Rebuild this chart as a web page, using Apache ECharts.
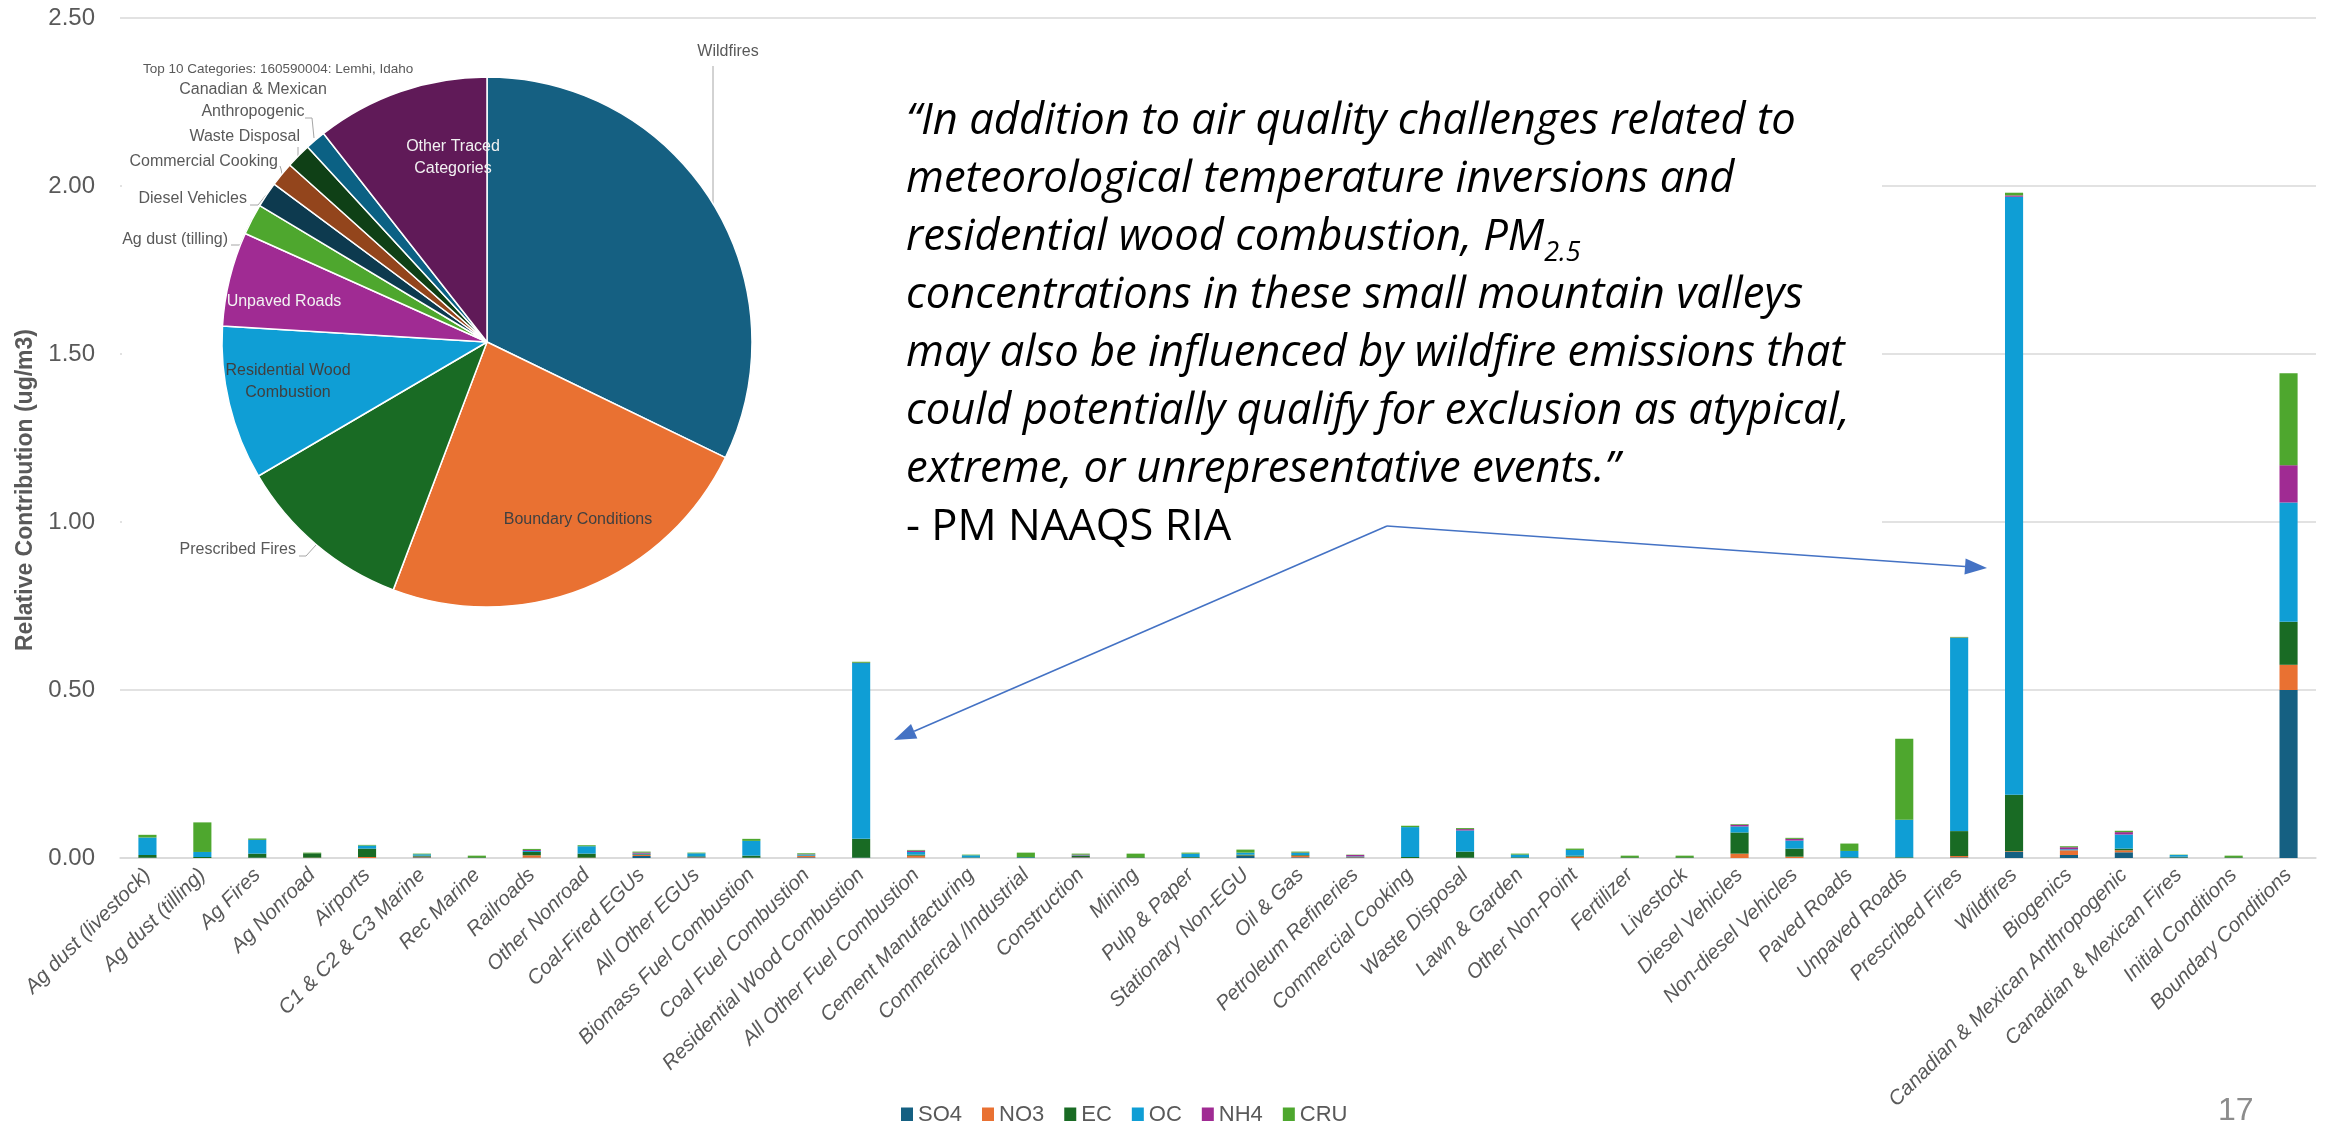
<!DOCTYPE html>
<html><head><meta charset="utf-8">
<script src="https://cdn.jsdelivr.net/npm/echarts@6/dist/echarts.min.js"></script>
<style>html,body{margin:0;padding:0;background:#fff}#c{width:2326px;height:1121px}</style>
</head><body><div id="c"></div>
<script>
// ---------------- DATA ----------------
const categories = ['Ag dust (livestock)','Ag dust (tilling)','Ag Fires','Ag Nonroad','Airports','C1 & C2 & C3 Marine','Rec Marine','Railroads','Other Nonroad','Coal-Fired EGUs','All Other EGUs','Biomass Fuel Combustion','Coal Fuel Combustion','Residential Wood Combustion','All Other Fuel Combustion','Cement Manufacturing','Commerical /Industrial','Construction','Mining','Pulp & Paper','Stationary Non-EGU','Oil & Gas','Petroleum Refineries','Commercial Cooking','Waste Disposal','Lawn & Garden','Other Non-Point','Fertilizer','Livestock','Diesel Vehicles','Non-diesel Vehicles','Paved Roads','Unpaved Roads','Prescribed Fires','Wildfires','Biogenics','Canadian & Mexican Anthropogenic','Canadian & Mexican Fires','Initial Conditions','Boundary Conditions'];
const SO4 = [0.001,0,0.001,0,0,0.002,0,0.001,0,0.006,0.002,0.001,0.002,0.001,0.001,0.001,0,0.002,0,0.001,0.006,0.002,0.002,0,0.001,0,0,0,0,0,0,0,0,0.002,0.018,0.009,0.017,0.002,0,0.500];
const NO3 = [0,0,0,0.001,0.003,0.002,0,0.007,0.001,0.003,0.001,0,0.004,0,0.006,0,0,0.001,0,0,0.001,0.005,0.001,0,0,0,0.004,0,0,0.013,0.004,0,0,0.004,0.002,0.014,0.006,0,0,0.075];
const EC  = [0.008,0.003,0.012,0.013,0.025,0.003,0.002,0.010,0.012,0.002,0.002,0.006,0.001,0.056,0.003,0.001,0.002,0.004,0.002,0.002,0.003,0.002,0.001,0.003,0.018,0.002,0.003,0.002,0.002,0.063,0.024,0.002,0.002,0.074,0.168,0,0.005,0.002,0.002,0.128];
const OC  = [0.052,0.015,0.041,0,0.009,0.004,0,0.003,0.022,0.002,0.009,0.044,0.003,0.523,0.008,0.006,0.001,0.001,0,0.010,0.006,0.006,0.001,0.089,0.063,0.008,0.017,0,0,0.018,0.024,0.019,0.112,0.575,1.780,0.003,0.042,0.005,0,0.355];
const NH4 = [0,0,0,0,0,0,0,0.003,0,0.003,0,0,0.001,0.001,0.004,0,0,0.002,0,0,0,0.001,0.004,0,0.004,0,0,0,0,0.005,0.005,0,0,0.001,0.004,0.006,0.007,0,0,0.111];
const CRU = [0.008,0.088,0.004,0.002,0.002,0.002,0.005,0.003,0.003,0.003,0.002,0.006,0.003,0.003,0.002,0.002,0.013,0.003,0.011,0.003,0.009,0.003,0.001,0.004,0.003,0.003,0.004,0.005,0.005,0.002,0.003,0.022,0.241,0.002,0.008,0.003,0.004,0.001,0.005,0.274];
const speciesNames = ['SO4','NO3','EC','OC','NH4','CRU'];
const pieNames = ['Wildfires','Boundary Conditions','Prescribed Fires','Residential Wood Combustion','Unpaved Roads','Ag dust (tilling)','Diesel Vehicles','Commercial Cooking','Waste Disposal','Canadian & Mexican Anthropogenic','Other Traced Categories'];
const pieValues = [1.98,1.45,0.665,0.578,0.354,0.116,0.096,0.091,0.094,0.077,0.651];
const pieTitle = 'Top 10 Categories: 160590004: Lemhi, Idaho';

// ---------------- STYLE / LAYOUT ----------------
const speciesColors = ['#156082','#E97132','#196B24','#0F9ED5','#A02B93','#4EA72E'];
const pieColors = ['#156082','#E97132','#196B24','#0F9ED5','#A02B93','#4EA72E','#0D3A4F','#93451C','#0F4016','#0B6184','#601A58'];
const pieInside = [false,true,false,true,true,false,false,false,false,false,true];
const pieLabelColor = ['#595959','#404040','#595959','#404040','#F2F2F2','#595959','#595959','#595959','#595959','#595959','#F2F2F2'];
const pieLabelPos = [
  {x:728,y:52,align:'center',line:[[713,204],[713,130],[713,66]]},
  {x:578,y:520,align:'center'},
  {x:296,y:550,align:'right',line:[[316,545],[306,556],[299,556]]},
  {x:288,y:382,align:'center'},
  {x:284,y:302,align:'center'},
  {x:228,y:240,align:'right',line:[[252,219],[240,245],[231,245]]},
  {x:247,y:199,align:'right',line:[[266,195],[258,205],[250,205]]},
  {x:278,y:162,align:'right',line:[[282,174],[281,169],[280,166]]},
  {x:300,y:137,align:'right',line:[[298,156],[298,151],[298,147]]},
  {x:253,y:101,align:'center',line:[[314,138],[312,118],[305,118]]},
  {x:453,y:158,align:'center'}
];
const labelBreaks = {'Canadian & Mexican Anthropogenic':'Canadian & Mexican\nAnthropogenic','Other Traced Categories':'Other Traced\nCategories','Residential Wood Combustion':'Residential Wood\nCombustion'};
const arrows = [[1387,526,894,740],[1387,526,1987,568]];
const FONT = 'Liberation Sans, Arial, sans-serif';
const QFONT = 'Open Sans, Lato, sans-serif';

const speciesData = [SO4,NO3,EC,OC,NH4,CRU];

function arrowEls(sx, sy, tx, ty) {
  const dx = tx - sx, dy = ty - sy, len = Math.hypot(dx, dy);
  const ux = dx / len, uy = dy / len, L = 22, W = 8;
  const bx = tx - L * ux, by = ty - L * uy, nx = -uy, ny = ux;
  return [
    {type:'polyline', z:20, shape:{points:[[sx,sy],[bx,by]]}, style:{stroke:'#4472C4', lineWidth:1.6, fill:null}},
    {type:'polygon', z:20, shape:{points:[[tx,ty],[bx+W*nx,by+W*ny],[bx-W*nx,by-W*ny]]}, style:{fill:'#4472C4'}}
  ];
}

const barSeries = speciesNames.map((n, i) => ({
  name: n, type: 'bar', stack: 'total', barWidth: '33%', z: 2,
  itemStyle: {color: speciesColors[i]},
  data: speciesData[i]
}));

const pieSeries = {
  type: 'pie', z: 3, center: [487, 342], radius: 265, startAngle: 90, clockwise: true,
  avoidLabelOverlap: false, silent: true,
  itemStyle: {borderColor: '#ffffff', borderWidth: 1.5},
  label: {show: true, fontFamily: FONT, fontSize: 16, lineHeight: 22, color: '#595959',
    formatter: p => labelBreaks[p.name] || p.name},
  labelLine: {show: true, length: 10, length2: 10, lineStyle: {color: '#A6A6A6', width: 1}},
  labelLayout: function (p) {
    const o = pieLabelPos[p.dataIndex];
    const r = {x: o.x, y: o.y, align: o.align, verticalAlign: 'middle', hideOverlap: false, moveOverlap: null};
    if (o.line) r.labelLinePoints = o.line;
    return r;
  },
  data: pieNames.map((n, i) => ({
    name: n, value: pieValues[i], itemStyle: {color: pieColors[i]},
    label: {position: pieInside[i] ? 'inside' : 'outside', color: pieLabelColor[i], align: 'center'},
    labelLine: {show: !pieInside[i]}
  }))
};

const quote = '{i|\u201CIn addition to air quality challenges related to}\n' +
  '{i|meteorological temperature inversions and}\n' +
  '{i|residential wood combustion, PM}{s|2.5}\n' +
  '{i|concentrations in these small mountain valleys}\n' +
  '{i|may also be influenced by wildfire emissions that}\n' +
  '{i|could potentially qualify for exclusion as atypical,}\n' +
  '{i|extreme, or unrepresentative events.\u201D}\n' +
  '{r|- PM NAAQS RIA}';

const graphics = [
  {type:'rect', z:1, shape:{x:122, y:28, width:1760, height:615}, style:{fill:'#ffffff'}},
  {type:'text', z:10, left: 906, top: 100, style:{
    text: quote, fill:'#000',
    rich: {
      i: {fontFamily: QFONT, fontStyle:'italic', fontSize:43.5, lineHeight:58, color:'#000'},
      s: {fontFamily: QFONT, fontStyle:'italic', fontSize:27, lineHeight:32, verticalAlign:'bottom', color:'#000'},
      r: {fontFamily: QFONT, fontSize:43.5, lineHeight:58, color:'#000'}
    }}},
  {type:'text', z:10, left: 2218, top: 1095, style:{text:'17', fontFamily: FONT, fontSize:32, fill:'#8C8C8C'}}
];
arrows.forEach(a => graphics.push(...arrowEls(a[0], a[1], a[2], a[3])));

const chart = echarts.init(document.getElementById('c'), null, {renderer: 'canvas'});
chart.setOption({
  animation: false,
  backgroundColor: '#ffffff',
  title: {text: pieTitle, left: 138, top: 57, textStyle: {fontFamily: FONT, fontSize: 13.5, fontWeight: 'normal', color: '#595959'}, z: 6},
  legend: {data: speciesNames, left: 896, top: 1099, icon: 'rect', itemWidth: 12, itemHeight: 15, itemGap: 20,
    textStyle: {fontFamily: FONT, fontSize: 22, color: '#595959'}},
  grid: {left: 120, right: 10, top: 18, bottom: 263, containLabel: false},
  xAxis: {type: 'category', data: categories,
    axisLine: {lineStyle: {color: '#D9D9D9', width: 1.5}}, axisTick: {show: false},
    axisLabel: {interval: 0, rotate: 45, margin: 14, fontFamily: FONT, fontStyle: 'italic', fontSize: 20.5, color: '#595959'}},
  yAxis: {type: 'value', min: 0, max: 2.5, interval: 0.5,
    name: 'Relative Contribution (ug/m3)', nameLocation: 'middle', nameGap: 81, nameRotate: 90,
    nameTextStyle: {fontFamily: FONT, fontWeight: 'bold', fontSize: 23, color: '#595959', padding: [0, 104, 0, 0]},
    axisLine: {show: false}, axisTick: {show: false},
    axisLabel: {formatter: v => v.toFixed(2), fontFamily: FONT, fontSize: 24, color: '#595959', margin: 25},
    splitLine: {lineStyle: {color: '#D9D9D9', width: 1.5}}},
  series: [...barSeries, pieSeries],
  graphic: graphics
});
</script></body></html>
